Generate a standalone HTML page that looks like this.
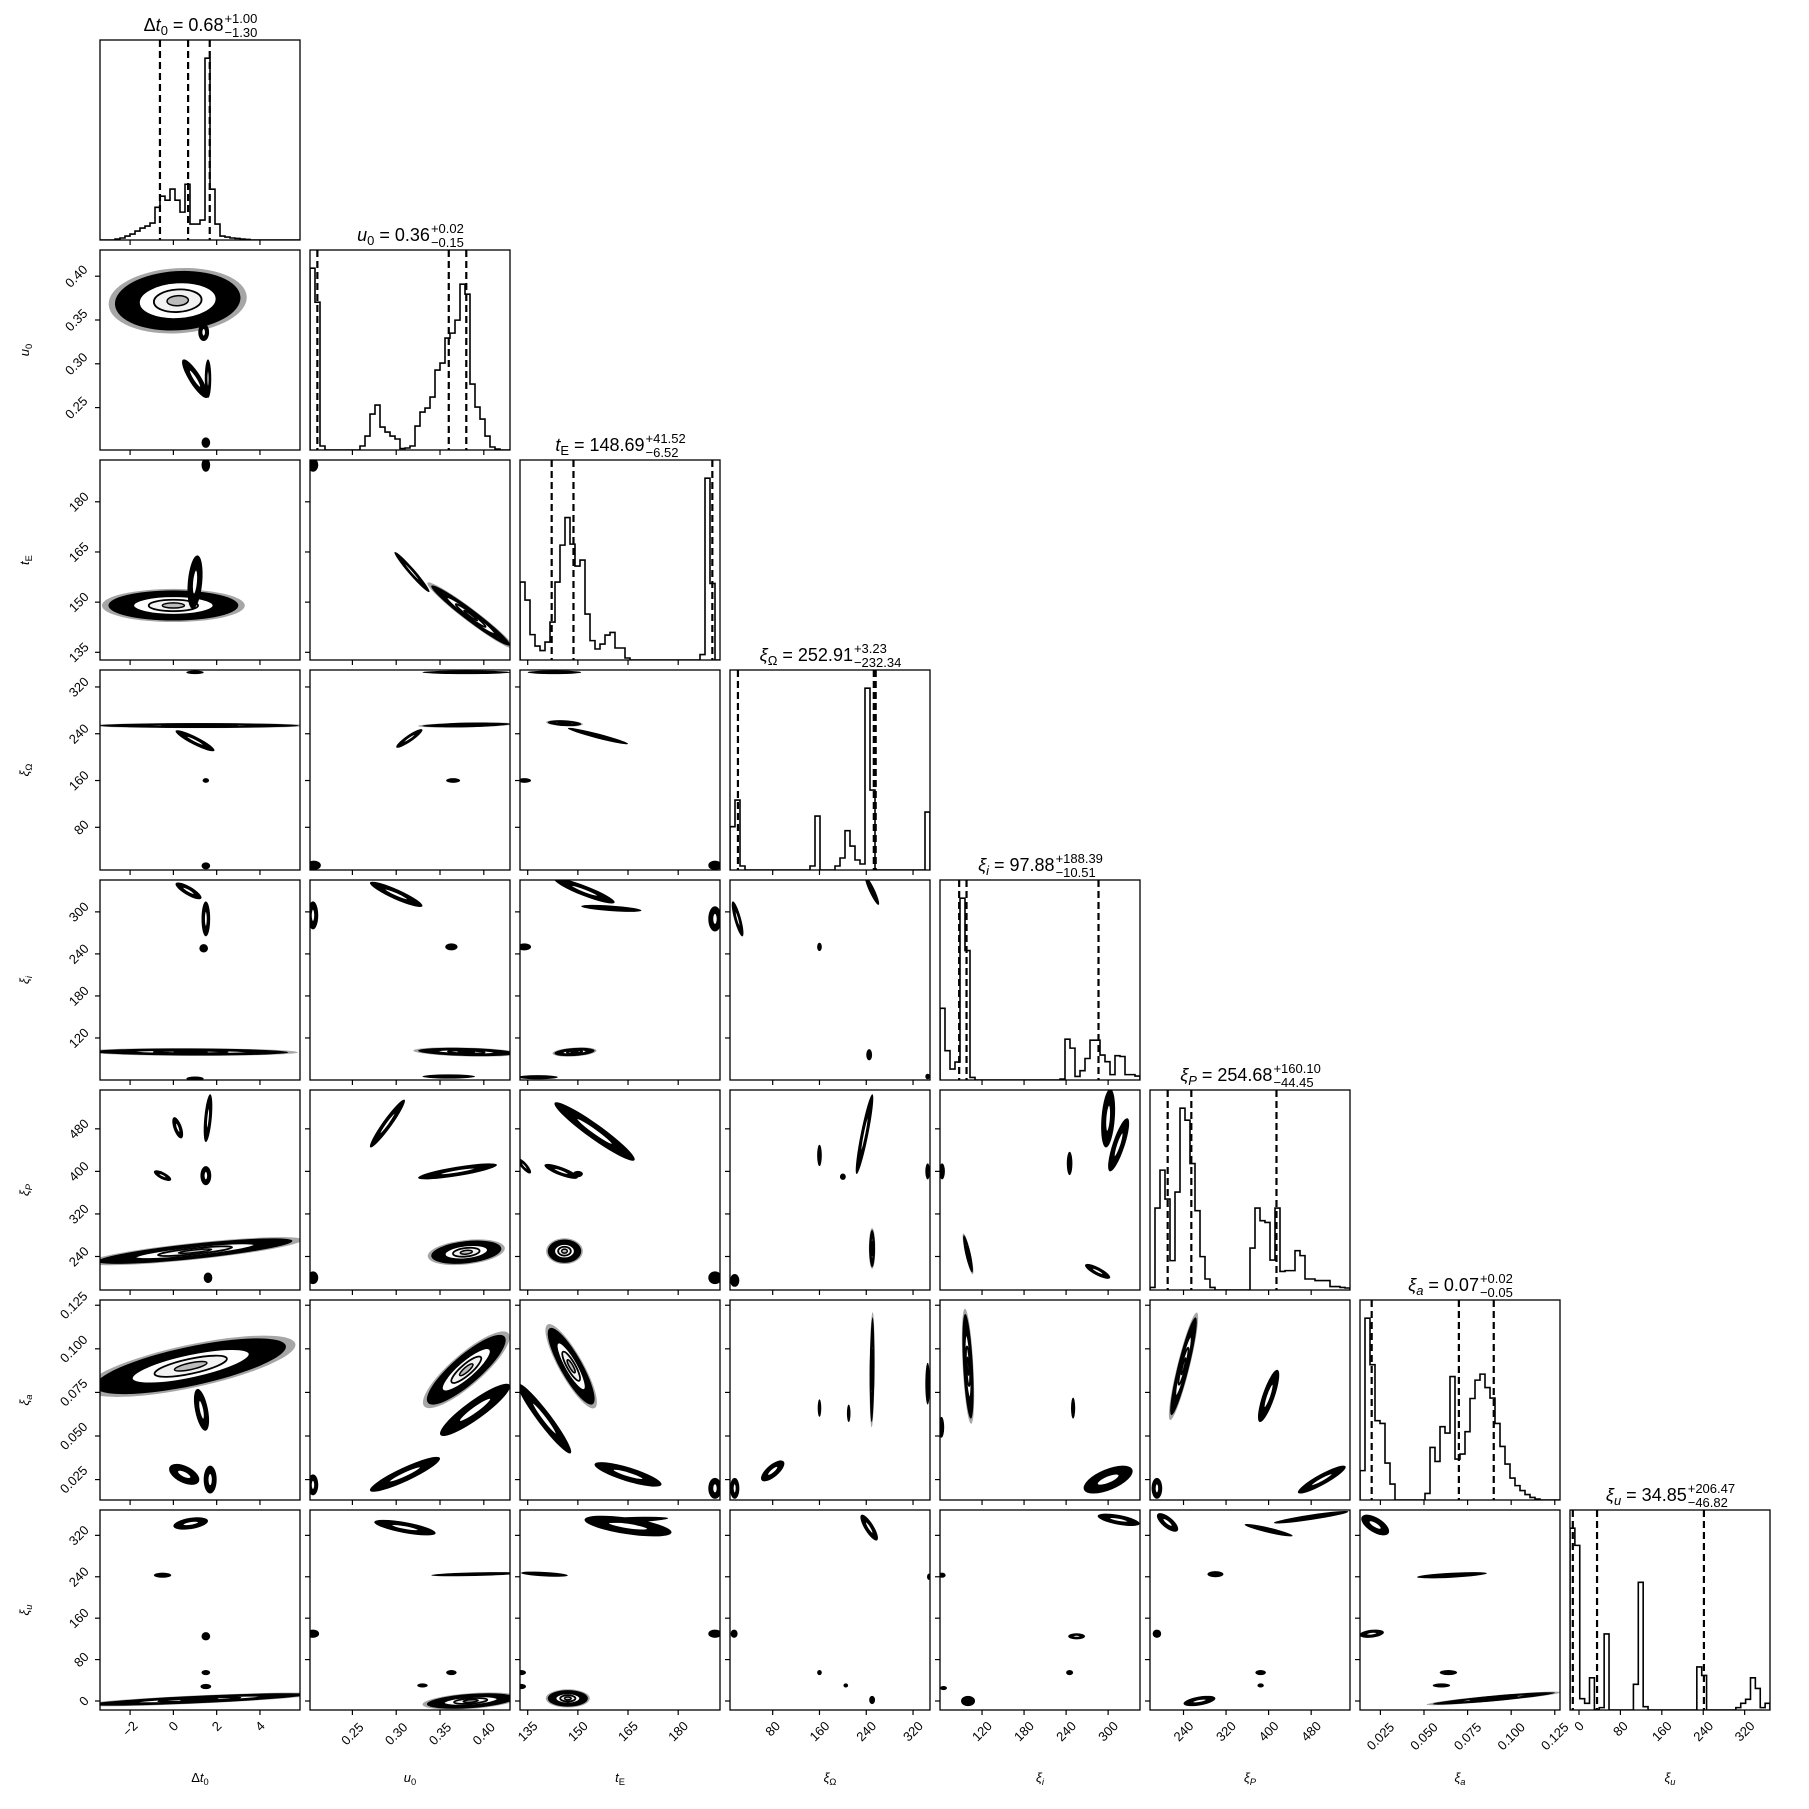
<!DOCTYPE html>
<html><head><meta charset="utf-8"><style>
html,body{margin:0;padding:0;background:#fff;}
svg{display:block;font-family:"Liberation Sans","DejaVu Sans",sans-serif;}
</style></head><body>
<svg id="fig" width="1809" height="1809" viewBox="0 0 1809 1809" xmlns="http://www.w3.org/2000/svg"></svg>
<script>
// ---- data ----
const paramKeys=["dt0","u0","tE","xiOmega","xii","xiP","xia","xiu"];
const axisLo=[-3.39,0.2016,132.7,7,60,177,0.0133,-17.4];
const axisHi=[5.85,0.4299,192.5,349,345.5,553,0.128,369];
const tickValues=[[-2,0,2,4],[0.25,0.30,0.35,0.40],[135,150,165,180],[80,160,240,320],[120,180,240,300],[240,320,400,480],[0.025,0.05,0.075,0.1,0.125],[0,80,160,240,320]];
const tickLabels=[["−2","0","2","4"],["0.25","0.30","0.35","0.40"],["135","150","165","180"],["80","160","240","320"],["120","180","240","300"],["240","320","400","480"],["0.025","0.050","0.075","0.100","0.125"],["0","80","160","240","320"]];
const medians=[0.68,0.36,148.69,252.91,97.88,254.68,0.07,34.85];
const errPlus=["1.00","0.02","41.52","3.23","188.39","160.10","0.02","206.47"];
const errMinus=["1.30","0.15","6.52","232.34","10.51","44.45","0.05","46.82"];
const qLow=[-0.62,0.21,142.17,20.57,87.37,210.23,0.02,-11.97];
const qHigh=[1.68,0.38,190.21,256.14,286.27,414.78,0.09,241.32];
const medText=["0.68","0.36","148.69","252.91","97.88","254.68","0.07","34.85"];
const hist0=[0,0,0,0.005,0.01,0.02,0.03,0.045,0.06,0.07,0.085,0.164,0.22,0.2,0.256,0.2,0.14,0.28,0.08,0.08,0.1,0.913,0.255,0.08,0.02,0.015,0.01,0.008,0.005,0.003,0,0,0,0,0,0,0,0,0,0];
const hist1=[0.91,0.74,0.02,0,0,0,0,0,0,0,0.02,0.07,0.18,0.225,0.115,0.09,0.07,0.055,0.007,0.01,0.02,0.12,0.19,0.21,0.265,0.40,0.435,0.56,0.585,0.65,0.83,0.78,0.33,0.215,0.155,0.07,0.015,0.005,0,0];
const hist2=[0.39,0.30,0.127,0.07,0.047,0.09,0.19,0.39,0.575,0.713,0.58,0.47,0.50,0.23,0.097,0.055,0.08,0.125,0.138,0.06,0.06,0.01,0,0,0,0,0,0,0,0,0,0,0,0,0,0,0.027,0.91,0.383,0];
const hist3=[0.217,0.35,0.02,0,0,0,0,0,0,0,0,0,0,0,0,0,0.02,0.27,0,0,0,0.02,0.06,0.197,0.12,0.05,0.03,0.91,0.4,0,0,0,0,0,0,0,0,0,0,0.29];
const hist4=[0.36,0.147,0.055,0.09,0.913,0.65,0.013,0,0,0,0,0,0,0,0,0,0,0,0,0,0,0,0,0,0.005,0.205,0.16,0.018,0.047,0.108,0.2,0.2,0.125,0.092,0.027,0.122,0.118,0.027,0.027,0.02];
const hist5=[0.013,0.41,0.6,0.455,0.147,0.49,0.91,0.85,0.633,0.397,0.167,0.055,0.013,0,0,0,0,0,0,0,0.21,0.41,0.347,0.338,0.15,0.41,0.093,0.097,0.097,0.197,0.172,0.055,0.055,0.047,0.047,0.047,0.017,0.017,0.013,0.01];
const hist6=[0.147,0.91,0.677,0.397,0.383,0.185,0.08,0,0,0,0,0,0,0.033,0.263,0.193,0.367,0.335,0.618,0.205,0.23,0.342,0.508,0.6,0.63,0.563,0.51,0.383,0.268,0.18,0.11,0.072,0.047,0.027,0.013,0.005,0,0,0,0];
const hist7=[0.92,0.833,0.057,0.034,0.163,0.003,0.012,0.385,0,0,0,0,0,0.13,0.646,0.017,0,0,0,0,0,0,0,0,0,0,0.218,0.175,0,0,0,0,0,0,0.012,0.034,0.054,0.163,0.109,0.012,0.034];
const histCounts=[hist0,hist1,hist2,hist3,hist4,hist5,hist6,hist7];
// contour blobs: [row, col, xCenter, yCenter, xSpread, ySpread, correlation, hasRings]
const contourBlobs=[
[1,0,0.2,0.372,2.9,0.034,0.1,1],[1,0,1.0,0.283,0.6,0.022,-0.85,0],[1,0,1.6,0.283,0.15,0.022,0,0],[1,0,1.5,0.21,0.2,0.006,0,0],[1,0,1.4,0.336,0.25,0.01,0,0],
[2,0,0.0,149,3.0,4.5,0,1],[2,0,1.0,156,0.35,8,0.3,0],[2,0,1.5,191,0.2,2,0,0],
[2,1,0.385,146,0.045,9,-0.97,1],[2,1,0.318,159,0.02,6,-0.97,0],[2,1,0.205,191,0.006,2,0,0],
[3,0,1.2,254,4.6,4,0,1],[3,0,1.0,228,0.9,18,-0.9,0],[3,0,1.5,160,0.15,4,0,0],[3,0,1.5,14,0.2,6,0,0],[3,0,1.0,345,0.4,3,0,0],
[3,1,0.38,255,0.05,4,0.4,1],[3,1,0.315,232,0.015,16,0.9,0],[3,1,0.365,160,0.008,4,0,0],[3,1,0.206,15,0.008,8,0,0],[3,1,0.38,345,0.05,3,0,0],
[3,2,146,258,5,5,-0.3,1],[3,2,156,236,9,14,-0.95,0],[3,2,134,160,2,4,0,0],[3,2,191,15,2,8,0,0],[3,2,143,345,8,3,0,0],
[4,0,0.8,100,4.5,5,-0.1,1],[4,0,1.5,290,0.2,25,0,0],[4,0,0.7,330,0.6,12,-0.8,0],[4,0,1.4,248,0.2,6,0,0],[4,0,1.0,62,0.4,3,0,0],
[4,1,0.38,100,0.055,6,-0.3,1],[4,1,0.205,295,0.006,20,0,0],[4,1,0.30,325,0.03,18,-0.9,0],[4,1,0.363,250,0.007,5,0,0],[4,1,0.36,65,0.03,3,0,0],
[4,2,149,100,6,6,0.3,1],[4,2,152,330,9,18,-0.9,0],[4,2,160,305,9,5,-0.6,0],[4,2,134,250,2,5,0,0],[4,2,191,290,2,18,0,0],[4,2,138,64,6,3,0,0],
[4,3,250,330,12,20,-0.9,0],[4,3,160,250,4,6,0,0],[4,3,245,96,5,8,0,0],[4,3,20,290,10,25,-0.8,0],[4,3,345,65,4,4,0,0],
[5,0,1.0,250,4.5,24,0.8,1],[5,0,0.2,482,0.25,20,-0.6,0],[5,0,1.6,500,0.2,45,0.5,0],[5,0,-0.5,392,0.4,10,-0.7,0],[5,0,1.5,392,0.25,18,0,0],[5,0,1.6,200,0.2,10,0,0],
[5,1,0.38,248,0.04,22,0.3,1],[5,1,0.29,490,0.02,45,0.95,0],[5,1,0.37,400,0.045,15,0.8,0],[5,1,0.205,200,0.006,12,0,0],
[5,2,146,250,5,22,0,1],[5,2,155,475,12,55,-0.95,0],[5,2,134,410,2,14,-0.8,0],[5,2,145,400,5,14,-0.8,0],[5,2,150,395,1.5,6,0,0],[5,2,191,200,2,12,0,0],
[5,3,250,255,5,35,0,1],[5,3,237,470,15,75,0.9,0],[5,3,160,430,4,20,0,0],[5,3,200,390,5,6,0,0],[5,3,345,400,4,15,0,0],[5,3,15,195,8,12,0,0],
[5,4,100,245,7,35,-0.85,1],[5,4,300,500,10,55,0.3,0],[5,4,315,450,15,50,0.8,0],[5,4,245,415,4,22,0,0],[5,4,285,212,18,14,-0.8,0],[5,4,63,400,4,15,0,0],
[6,0,0.8,0.09,4.4,0.016,0.7,1],[6,0,1.3,0.065,0.35,0.012,-0.5,0],[6,0,0.5,0.028,0.7,0.006,-0.5,0],[6,0,1.7,0.025,0.3,0.008,0,0],
[6,1,0.38,0.088,0.045,0.02,0.85,1],[6,1,0.39,0.065,0.04,0.015,0.9,0],[6,1,0.31,0.028,0.04,0.01,0.9,0],[6,1,0.205,0.022,0.006,0.006,0,0],
[6,2,148,0.09,7,0.022,-0.85,1],[6,2,140,0.06,8,0.02,-0.95,0],[6,2,165,0.028,10,0.007,-0.8,0],[6,2,191,0.02,2,0.006,0,0],
[6,3,250,0.088,4,0.03,0.2,1],[6,3,160,0.066,3,0.005,0,0],[6,3,210,0.063,3,0.005,0,0],[6,3,345,0.08,4,0.012,0,0],[6,3,80,0.03,20,0.006,0.7,0],[6,3,15,0.02,8,0.006,0,0],
[6,4,100,0.09,8,0.03,-0.5,1],[6,4,250,0.066,3,0.006,0,0],[6,4,300,0.025,35,0.008,0.6,0],[6,4,62,0.055,4,0.006,0,0],
[6,5,240,0.09,25,0.028,0.9,1],[6,5,400,0.073,20,0.015,0.8,0],[6,5,500,0.025,45,0.008,0.9,0],[6,5,190,0.02,10,0.006,0,0],
[7,0,1.2,3,5,12,0.8,1],[7,0,0.8,343,0.8,12,0.4,0],[7,0,-0.5,243,0.4,5,0,0],[7,0,1.5,125,0.2,8,0,0],[7,0,1.5,55,0.2,5,0,0],[7,0,1.5,28,0.25,5,0,0],
[7,1,0.385,0,0.05,15,0.4,1],[7,1,0.31,335,0.035,15,-0.7,0],[7,1,0.39,245,0.05,4,0.5,0],[7,1,0.363,55,0.006,5,0,0],[7,1,0.33,30,0.006,4,0,0],[7,1,0.205,130,0.007,8,0,0],
[7,2,147,5,6,16,0,1],[7,2,165,338,13,20,-0.6,0],[7,2,165,350,12,6,0.5,0],[7,2,140,245,7,5,-0.5,0],[7,2,191,130,2,8,0,0],[7,2,133,55,1.5,5,0,0],[7,2,133,28,1.5,5,0,0],
[7,3,245,335,15,25,-0.8,0],[7,3,160,55,4,5,0,0],[7,3,205,30,4,4,0,0],[7,3,250,2,5,8,0,0],[7,3,347,240,3,6,0,0],[7,3,14,130,6,8,0,0],
[7,4,315,350,30,12,-0.6,0],[7,4,255,125,12,6,0,0],[7,4,245,55,5,5,0,0],[7,4,63,243,5,5,0,0],[7,4,65,25,5,4,0,0],[7,4,100,0,10,10,0,0],
[7,5,210,345,20,18,-0.7,0],[7,5,480,355,70,12,0.9,0],[7,5,400,330,45,12,-0.9,0],[7,5,300,245,15,6,0,0],[7,5,385,55,10,5,0,0],[7,5,385,30,6,4,0,0],[7,5,270,0,30,10,0.5,0],[7,5,190,130,8,8,0,0],
[7,6,0.022,340,0.008,20,-0.6,0],[7,6,0.066,243,0.02,6,0.6,0],[7,6,0.02,130,0.007,8,0.3,0],[7,6,0.064,55,0.005,5,0,0],[7,6,0.06,30,0.005,4,0,0],[7,6,0.09,5,0.035,12,0.9,1]
];
const nameParts=[[["Δ","n"],["t","i"],["0","s"]],[["u","i"],["0","s"]],[["t","i"],["E","s"]],[["ξ","i"],["Ω","s"]],[["ξ","i"],["i","si"]],[["ξ","i"],["P","si"]],[["ξ","i"],["a","si"]],[["ξ","i"],["u","si"]]];

// ---- layout ----
const NS="http://www.w3.org/2000/svg";
const svg=document.getElementById('fig');
const X0=100,Y0=40,S=200,P=210,N=8;
function sx(c,v){return X0+c*P+(v-axisLo[c])/(axisHi[c]-axisLo[c])*S;}
function sy(r,v){return Y0+r*P+S-(v-axisLo[r])/(axisHi[r]-axisLo[r])*S;}
function mk(tag,attrs,parent){const e=document.createElementNS(NS,tag);for(const k in attrs)e.setAttribute(k,attrs[k]);(parent||svg).appendChild(e);return e;}
function addName(t,parts,size){
  for(const [s,st] of parts){
    const ts=document.createElementNS(NS,'tspan');
    ts.textContent=s;
    if(st==='i'||st==='si')ts.setAttribute('font-style','italic');
    if(st==='s'||st==='si'){ts.setAttribute('font-size',size*0.72);ts.setAttribute('dy',size*0.22);}
    t.appendChild(ts);
    if(st==='s'||st==='si'){const z=document.createElementNS(NS,'tspan');z.setAttribute('dy',-size*0.22);z.textContent='\u200b';t.appendChild(z);}
  }
}
const defs=mk('defs',{});
for(let r=0;r<N;r++)for(let c=0;c<=r;c++){
  const cp=mk('clipPath',{id:'cp'+r+'_'+c},defs);
  mk('rect',{x:X0+c*P,y:Y0+r*P,width:S,height:S},cp);
}

for(let r=0;r<N;r++){
  for(let c=0;c<=r;c++){
    const px=X0+c*P,py=Y0+r*P;
    const g=mk('g',{});
    
    
    const inner=mk('g',{'clip-path':'url(#cp'+r+'_'+c+')'},g);
    if(r===c){
      const h=histCounts[c];const mx=Math.max(...h)*1.1;const nb=h.length;
      const base=py+S;
      let d='M'+px+','+base;
      for(let i=0;i<nb;i++){
        const x0=sx(c,axisLo[c]+(axisHi[c]-axisLo[c])*i/nb),x1=sx(c,axisLo[c]+(axisHi[c]-axisLo[c])*(i+1)/nb);
        const y=base-h[i]/mx*S;
        d+=' L'+x0+','+y+' L'+x1+','+y;
      }
      d+=' L'+(px+S)+','+base;
      const hp=mk('path',{d:d,fill:'none',stroke:'#000','stroke-width':1.6},inner);
      
      
      for(const q of [qLow[c],medians[c],qHigh[c]]){
        const X=sx(c,q);
        const ql=mk('line',{x1:X,x2:X,y1:py,y2:py+S,stroke:'#000','stroke-width':2.2,'stroke-dasharray':'7,4'},inner);
        
        
      }
      const t=mk('text',{x:0,y:py-9,'font-size':18,fill:'#000'},g);
      
      
      addName(t,nameParts[c],18);
      const ts=document.createElementNS(NS,'tspan');ts.textContent=' = '+medText[c];t.appendChild(ts);
      const sup=mk('text',{x:0,y:py-17,'font-size':13,fill:'#000'},g);sup.textContent='+'+errPlus[c];
      
      
      const sub=mk('text',{x:0,y:py-3,'font-size':13,fill:'#000'},g);sub.textContent='−'+errMinus[c];
      
      
      const w1=t.getComputedTextLength(),w2=Math.max(sup.getComputedTextLength(),sub.getComputedTextLength());
      const left=px+S/2-(w1+w2)/2;
      t.setAttribute('x',left);sup.setAttribute('x',left+w1+1);sub.setAttribute('x',left+w1+1);
    }else{
      for(const b of contourBlobs){
        if(b[0]!==r||b[1]!==c)continue;
        const cx=sx(c,b[2]),cy=sy(r,b[3]);
        const ax=b[4]*S/(axisHi[c]-axisLo[c]),ay=b[5]*S/(axisHi[r]-axisLo[r]),rho=-b[6];
        const cxy=rho*ax*ay;
        const tt=(ax*ax+ay*ay)/2,dd=Math.sqrt(((ax*ax-ay*ay)/2)**2+cxy*cxy);
        const r1=Math.max(1.8,Math.sqrt(tt+dd)),r2=Math.max(1.8,Math.sqrt(Math.max(0,tt-dd)));
        const ang=0.5*Math.atan2(2*cxy,ax*ax-ay*ay)*180/Math.PI;
        const eg=mk('g',{transform:'translate('+cx+','+cy+') rotate('+ang+')'},inner);
        
        
        if(b[7]){
          mk('ellipse',{rx:r1*1.1,ry:r2*1.1,fill:'#000','fill-opacity':0.35},eg);
          mk('ellipse',{rx:r1,ry:r2,fill:'#000'},eg);
          mk('ellipse',{rx:r1*0.62,ry:r2*0.62,fill:'#fff',stroke:'#000','stroke-width':2},eg);
          mk('ellipse',{rx:r1*0.38,ry:r2*0.38,fill:'#f2f2f2',stroke:'#000','stroke-width':1.8},eg);
          mk('ellipse',{rx:r1*0.17,ry:r2*0.17,fill:'#bbb',stroke:'#000','stroke-width':1.5},eg);
        }else{
          mk('ellipse',{rx:r1,ry:r2,fill:'#000'},eg);
          if(r1>8&&r2>3)mk('ellipse',{rx:r1*0.45,ry:r2*0.35,fill:'#fff',stroke:'#000','stroke-width':1.2},eg);
        }
      }
    }
    const fr=mk('rect',{x:px,y:py,width:S,height:S,fill:'none',stroke:'#000','stroke-width':1.3},g);
    
    
    tickValues[c].forEach((v,i)=>{
      const X=sx(c,v);
      mk('line',{x1:X,x2:X,y1:py+S,y2:py+S+5,stroke:'#000','stroke-width':1.2},g);
      if(r===N-1){
        const lab=tickLabels[c][i];
        const w=lab.length*7.2;const bh=(w+13)*0.707;
        const tl=mk('text',{x:X,y:0,'font-size':13,'text-anchor':'middle','dominant-baseline':'central',fill:'#000'},g);
        const yc=py+S+9+bh/2;tl.setAttribute('y',yc);tl.setAttribute('transform','rotate(-45 '+X+' '+yc+')');
        tl.textContent=lab;
        
        
      }
    });
    if(r!==c){
      tickValues[r].forEach((v,i)=>{
        const Y=sy(r,v);
        mk('line',{x1:px-5,x2:px,y1:Y,y2:Y,stroke:'#000','stroke-width':1.2},g);
        if(c===0){
          const lab=tickLabels[r][i];
          const w=lab.length*7.2;const bw=(w+13)*0.707;
          const xc=px-9-bw/2;
          const tl=mk('text',{x:xc,y:Y,'font-size':13,'text-anchor':'middle','dominant-baseline':'central',transform:'rotate(-45 '+xc+' '+Y+')',fill:'#000'},g);
          tl.textContent=lab;
          
          
        }
      });
    }
  }
}
for(let i=0;i<N;i++){
  const xl=mk('text',{x:X0+i*P+S/2,y:1782,'font-size':13,'text-anchor':'middle',fill:'#000'});
  addName(xl,nameParts[i],13);
  
  
  if(i>0){
    const yc=Y0+i*P+S/2;
    const yl=mk('text',{x:29,y:yc,'font-size':13,'text-anchor':'middle',transform:'rotate(-90 29 '+yc+')',fill:'#000'});
    addName(yl,nameParts[i],13);
    
    
  }
}
</script>
</body></html>
